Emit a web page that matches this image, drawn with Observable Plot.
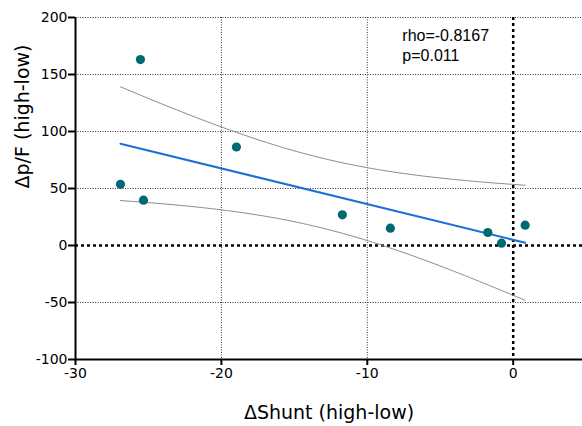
<!DOCTYPE html>
<html><head><meta charset="utf-8">
<script src="https://cdn.jsdelivr.net/npm/d3@7"></script>
<script src="https://cdn.jsdelivr.net/npm/@observablehq/plot@0.6"></script>
<style>html,body{margin:0;padding:0;background:#fff} svg{display:block}</style>
</head><body><div id="chart"></div>
<script>
// ΔShunt (high-low) and Δp/F (high-low) for each subject
const shunt = [-26.92, -25.55, -25.34, -18.97, -11.71, -8.42, -1.74, -0.80, 0.82];
const dpf   = [53.7, 163.1, 39.8, 86.4, 26.9, 15.2, 11.4, 2.0, 17.8];
const xTicks = [-30, -20, -10, 0];
const yTicks = [-100, -50, 0, 50, 100, 150, 200];
const xGrid = [-20, -10];
const yGrid = [-50, 50, 100, 150, 200];
const annotation = ["rho=-0.8167", "p=0.011"];
const annotationAt = {x: -7.6, y: 192};
const xLabel = "ΔShunt (high-low)";
const yLabel = "Δp/F (high-low)";

const pts = shunt.map((x, i) => ({x, y: dpf[i]}));

// least-squares fit with 95% confidence band for the mean
const n = pts.length, mx = d3.mean(shunt), my = d3.mean(dpf);
const sxx = d3.sum(shunt, x => (x - mx) ** 2);
const sxy = d3.sum(pts, d => (d.x - mx) * (d.y - my));
const b = sxy / sxx, a = my - b * mx;
const s = Math.sqrt(d3.sum(pts, d => (d.y - a - b * d.x) ** 2) / (n - 2));
const tCrit = 2.3646; // t(0.975, df = 7)
const [x0, x1] = d3.extent(shunt);
const band = d3.range(0, 81).map(i => {
  const x = x0 + (x1 - x0) * i / 80;
  const yh = a + b * x, h = tCrit * s * Math.sqrt(1 / n + (x - mx) ** 2 / sxx);
  return {x, lo: yh - h, hi: yh + h};
});

const fmt = d => String(d);

const chart = Plot.plot({
  width: 582, height: 426,
  marginLeft: 75, marginRight: 0, marginTop: 17, marginBottom: 67,
  style: {fontFamily: "DejaVu Sans, Verdana, sans-serif", fontSize: "14px", color: "#000", background: "#fff"},
  x: {domain: [-30, 4.75], label: null},
  y: {domain: [-100, 200], label: null},
  marks: [
    Plot.gridX(xGrid, {stroke: "#333", strokeOpacity: 1, strokeWidth: 1, strokeDasharray: "1,1.5"}),
    Plot.gridY(yGrid, {stroke: "#333", strokeOpacity: 1, strokeWidth: 1, strokeDasharray: "1,1.5"}),
    Plot.ruleX([0], {stroke: "#000", strokeWidth: 2.5, strokeDasharray: "3,3"}),
    Plot.ruleY([0], {stroke: "#000", strokeWidth: 2.5, strokeDasharray: "3,3"}),
    Plot.line(band, {x: "x", y: "hi", stroke: "#8c8c8c", strokeWidth: 1}),
    Plot.line(band, {x: "x", y: "lo", stroke: "#8c8c8c", strokeWidth: 1}),
    Plot.linearRegressionY(pts, {x: "x", y: "y", stroke: "#1b70d8", strokeWidth: 2, ci: 0}),
    Plot.dot(pts, {x: "x", y: "y", r: 4.6, fill: "#006a72", stroke: null}),
    Plot.ruleX([-30], {stroke: "#000", strokeWidth: 2}),
    Plot.ruleY([-100], {stroke: "#000", strokeWidth: 2}),
    Plot.axisX(xTicks, {tickSize: 6, tickPadding: 3, strokeWidth: 2, label: null, fontSize: 14, tickFormat: fmt}),
    Plot.axisY(yTicks, {tickSize: 7, tickPadding: 1, strokeWidth: 2, label: null, fontSize: 14, tickFormat: fmt}),
    Plot.text([xLabel], {frameAnchor: "bottom", dy: 53, fontSize: 19, lineAnchor: "middle"}),
    Plot.text([yLabel], {frameAnchor: "left", dx: -53, rotate: -90, fontSize: 19, lineAnchor: "middle"}),
    Plot.text([annotation.join("\n")], {x: () => annotationAt.x, y: () => annotationAt.y, textAnchor: "start", lineAnchor: "top", lineHeight: 1.25, fontSize: 16, fontFamily: "Liberation Sans, Arial, sans-serif"})
  ]
});
document.getElementById("chart").appendChild(chart);
</script>
</body></html>
